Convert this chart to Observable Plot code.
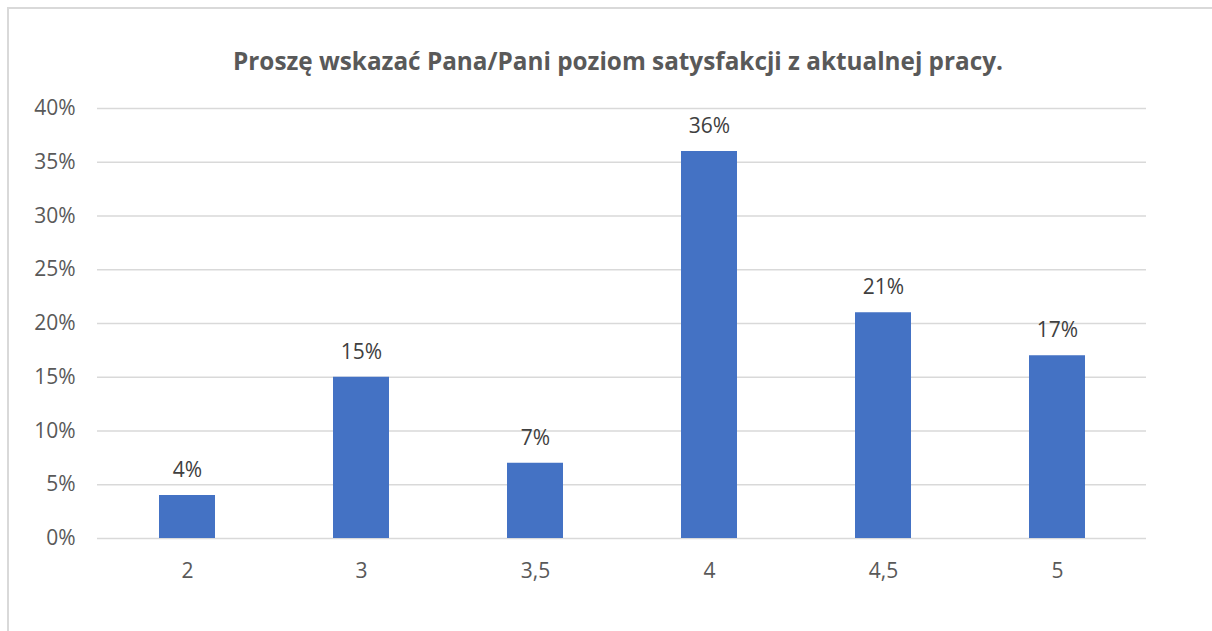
<!DOCTYPE html>
<html>
<head>
<meta charset="utf-8">
<script src="https://cdn.jsdelivr.net/npm/d3@7"></script>
<script src="https://cdn.jsdelivr.net/npm/@observablehq/plot@0.6"></script>
<style>
  body { margin: 0; background: #fff; }
  #wrap { position: relative; width: 1212px; height: 631px; overflow: hidden; font-family: "Open Sans", "Liberation Sans", sans-serif; }
  #frame { position: absolute; left: 7px; top: 7px; width: 1220px; height: 700px; border: 2px solid #d9d9d9; box-sizing: border-box; }
  #title { position: absolute; left: 0; width: 1236px; top: 44px; text-align: center; font-size: 24.3px; font-weight: bold; color: #595959; white-space: nowrap; }
  #chart { position: absolute; left: 0; top: 0; }
</style>
</head>
<body>
<div id="wrap">
  <div id="frame"></div>
  <div id="chart"></div>
  <div id="title">Proszę wskazać Pana/Pani poziom satysfakcji z aktualnej pracy.</div>
</div>
<script>
const categories = ["2", "3", "3,5", "4", "4,5", "5"];
const values = [4, 15, 7, 36, 21, 17];
const yTicks = [0, 5, 10, 15, 20, 25, 30, 35, 40];

const data = categories.map((c, i) => ({category: c, value: values[i]}));

const plot = Plot.plot({
  width: 1212,
  height: 631,
  marginTop: 108,
  marginBottom: 93,
  marginLeft: 97,
  marginRight: 66,
  style: {fontFamily: "'Open Sans', 'Liberation Sans', sans-serif", fontSize: "21px", color: "#595959", background: "transparent"},
  x: {domain: categories, paddingInner: 0.68, paddingOuter: 0.34, label: null},
  y: {domain: [0, 40], label: null},
  marks: [
    Plot.gridY(yTicks, {stroke: "#d9d9d9", strokeOpacity: 1, strokeWidth: 1.5}),
    Plot.barY(data, {x: "category", y: "value", fill: "#4472c4"}),
    Plot.text(data, {x: "category", y: "value", text: d => d.value + "%", dy: -25, fill: "#404040", fontSize: 21}),
    Plot.axisX({tickSize: 0, tickPadding: 25, fontSize: 21, fill: "#595959", label: null}),
    Plot.axisY({ticks: yTicks, tickSize: 0, tickPadding: 22, tickFormat: d => d + "%", fontSize: 21, fill: "#595959", label: null})
  ]
});
document.getElementById("chart").appendChild(plot);
</script>
</body>
</html>
